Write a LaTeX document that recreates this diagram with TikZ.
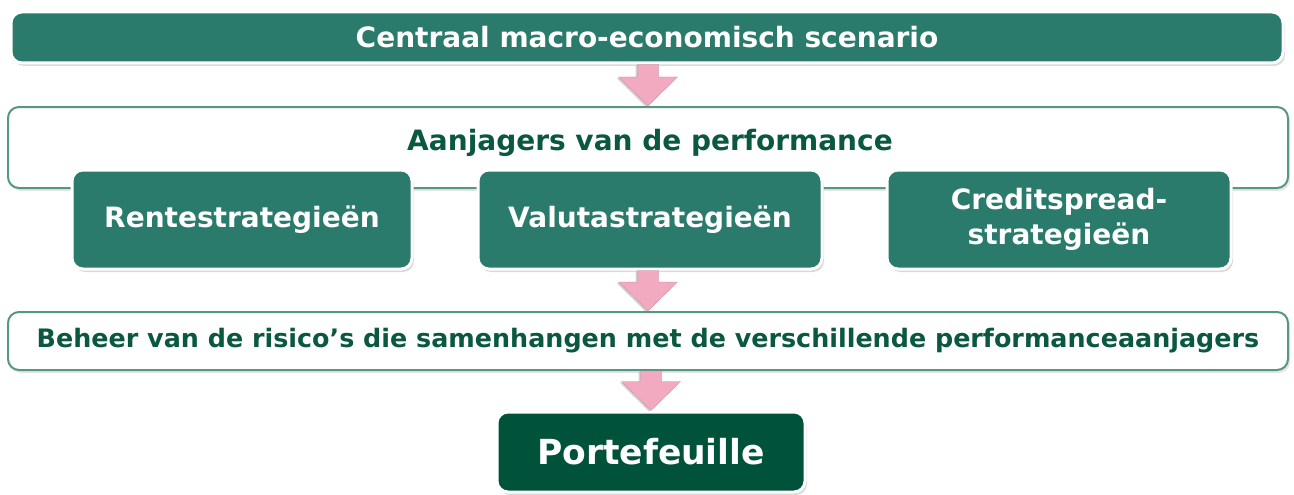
\documentclass[tikz,border=0pt]{standalone}
\usepackage{fontspec}
\setmainfont{DejaVu Sans}
\usetikzlibrary{shadows,calc}
\definecolor{teal}{RGB}{42,123,107}
\definecolor{dgreen}{RGB}{10,88,64}
\definecolor{edge}{RGB}{88,150,132}
\definecolor{pdark}{RGB}{0,82,58}
\definecolor{pink}{RGB}{242,170,192}
\tikzset{
  tealbox/.style={draw=white, line width=3pt, fill=teal, rounded corners=11pt, text=white,
    font=\bfseries\fontsize{28}{35}\selectfont, align=center, inner sep=0pt,
    drop shadow={opacity=0.3, shadow xshift=2pt, shadow yshift=-3pt}},
  whitebox/.style={draw=edge, line width=2pt, fill=white, rounded corners=11pt, inner sep=0pt,
    drop shadow={opacity=0.2, shadow xshift=2pt, shadow yshift=-3pt}},
  greentext/.style={text=dgreen, font=\bfseries\fontsize{28}{32}\selectfont},
  barrow/.style={fill=pink, draw=pink!80!black, line width=0.3pt,
    drop shadow={opacity=0.35, shadow xshift=-2pt, shadow yshift=-1pt}}
}
\newcommand\blockarrow[2]{%
  \path[barrow] let \p1=(#1.south), \p2=(#2.north) in
    ($(\x2,\y1)+(-10.5pt,0)$) -- ($(\x2,\y1)+(10.5pt,0)$) -- ($(\x2,\y2)+(10.5pt,29pt)$)
    -- ($(\x2,\y2)+(29.5pt,29pt)$) -- (\x2,\y2) -- ($(\x2,\y2)+(-29.5pt,29pt)$)
    -- ($(\x2,\y2)+(-10.5pt,29pt)$) -- cycle;}
\begin{document}
\begin{tikzpicture}[x=1pt,y=-1pt]
\useasboundingbox (0,0) rectangle (1294,495);
\node[whitebox, minimum width=1280pt, minimum height=81pt] (drivers) at (648,147.5) {};
\node[greentext] (driverstxt) at (650,143) {Aanjagers van de performance};
\node[tealbox, minimum width=1272pt, minimum height=51pt] (macro) at (647,37.5) {Centraal macro-economisch scenario};
\node[whitebox, minimum width=1280pt, minimum height=58pt, text=dgreen,
  font=\bfseries\fontsize{25.4}{28}\selectfont] (risk) at (648,341)
  {Beheer van de risico’s die samenhangen met de verschillende performanceaanjagers};
\node[tealbox, minimum width=340pt, minimum height=99pt] (rente) at (242,219.5) {Rentestrategieën};
\node[tealbox, minimum width=344pt, minimum height=99pt] (valuta) at (650,219.5) {Valutastrategieën};
\node[tealbox, minimum width=344pt, minimum height=99pt] (credit) at (1059,219.5) {Creditspread-\\strategieën};
\node[tealbox, fill=pdark, minimum width=308pt, minimum height=80pt,
  font=\bfseries\fontsize{34.5}{38}\selectfont] (port) at (651,452) {Portefeuille};
\blockarrow{macro}{drivers}
\blockarrow{valuta}{risk}
\blockarrow{risk}{port}
\end{tikzpicture}
\end{document}
